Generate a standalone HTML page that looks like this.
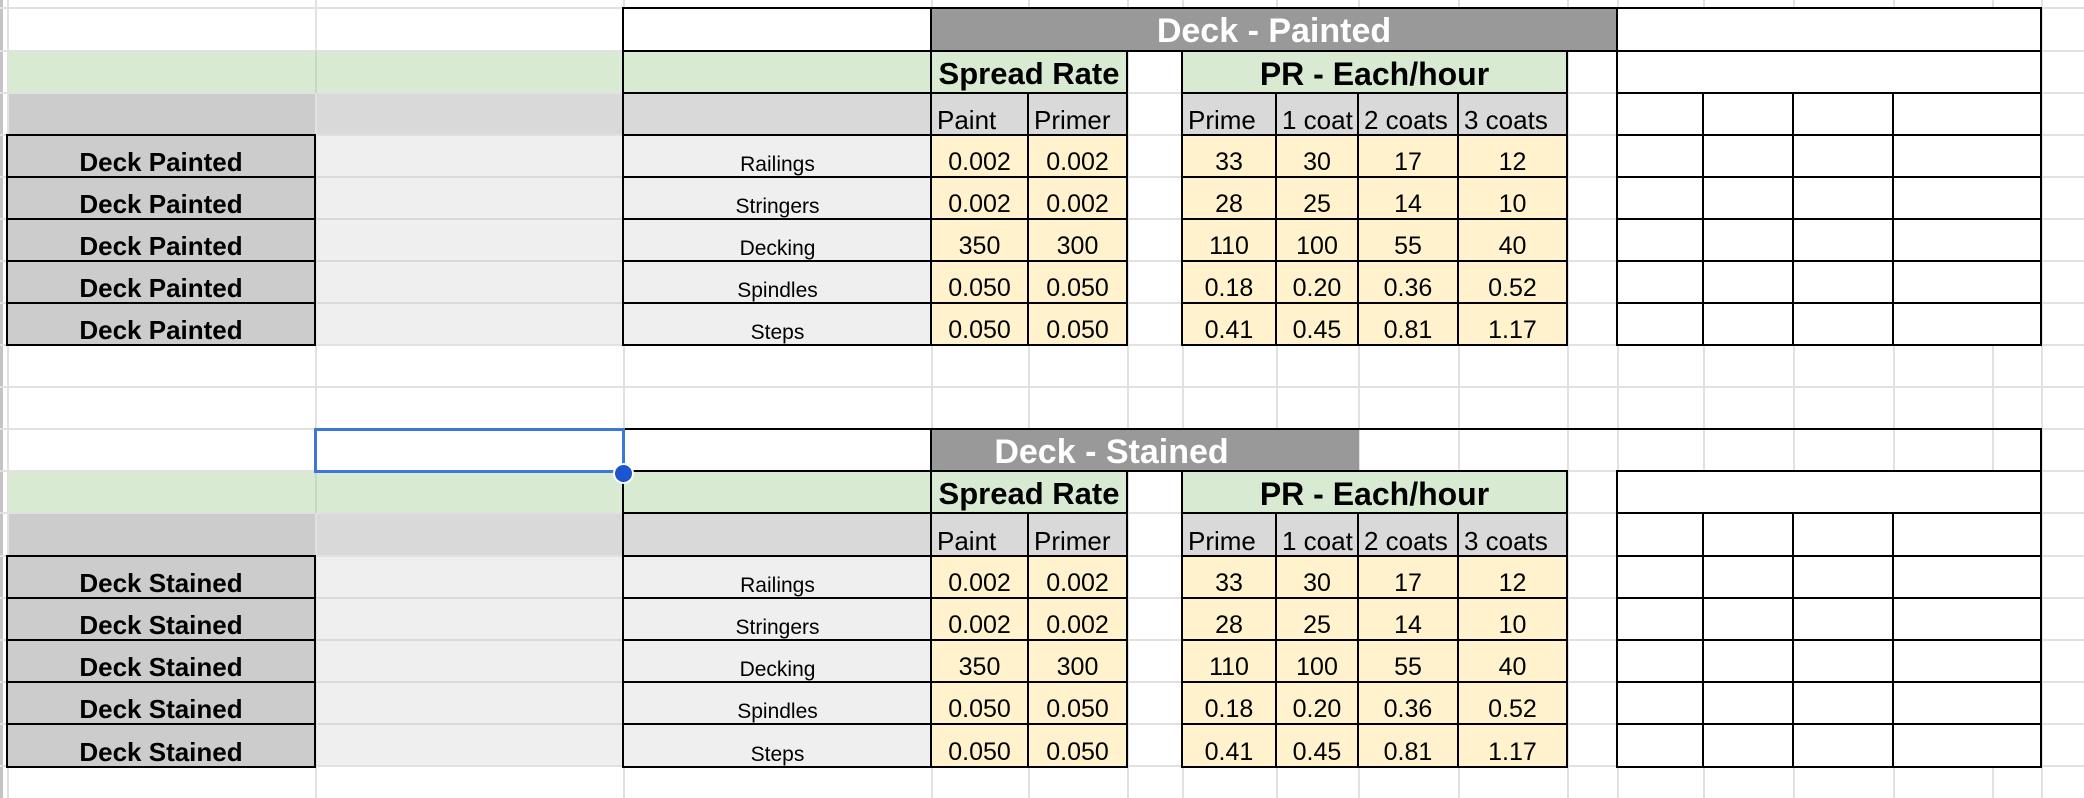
<!DOCTYPE html>
<html><head><meta charset="utf-8"><style>
body{margin:0;width:2084px;height:798px;background:#fff;position:relative;overflow:hidden;font-family:"Liberation Sans",Arial,sans-serif}
.g{position:absolute;background:#e1e1e1}
.f{position:absolute}
.c{position:absolute;box-sizing:border-box;border:2px solid #000;display:flex;align-items:flex-end;justify-content:center;color:#000;white-space:nowrap;line-height:1.0;padding-bottom:1px;font-size:25px;background:#fff}
.hc{align-items:center;padding-bottom:0;padding-top:3px;font-weight:bold}
.lb{justify-content:flex-start;padding-left:5px;font-size:26px}
.dA{font-weight:bold;font-size:26px;background:#ccc}
.dC{font-size:21px;background:#efefef}
.v{background:#fff2cc}
.gr{background:#d9d9d9}
.gn{background:#d9ead3}
.xA{left:6px;width:310px}.xC{left:622px;width:311px}.xP{left:930px;width:99px}.xQ{left:1027px;width:101px}
.xR1{left:1181px;width:96px}.xR2{left:1275px;width:84px}.xR3{left:1357px;width:102px}.xR4{left:1457px;width:111px}
.xS1{left:1616px;width:88px}.xS2{left:1702px;width:92px}.xS3{left:1792px;width:102px}.xS4{left:1892px;width:150px}
.xRt{left:1616px;width:426px}.xSp{left:930px;width:198px}.xPR{left:1181px;width:387px}
.r0{top:7px;height:45px}.r1{top:50px;height:44px}.r2{top:92px;height:44px}.r3{top:134px;height:44px}.r4{top:176px;height:44px}.r5{top:218px;height:44px}.r6{top:260px;height:44px}.r7{top:302px;height:44px}
.s0{top:428px;height:44px}.s1{top:470px;height:44px}.s2{top:512px;height:45px}.s3{top:555px;height:44px}.s4{top:597px;height:44px}.s5{top:639px;height:44px}.s6{top:681px;height:44px}.s7{top:723px;height:45px}
</style></head><body>
<!-- gridlines -->
<div class="g" style="left:0;top:0;width:3px;height:798px;background:#c4c4c4"></div>
<div class="g" style="left:7px;top:0;width:2px;height:798px"></div>
<div class="g" style="left:315px;top:0;width:2px;height:798px"></div>
<div class="g" style="left:623px;top:0;width:2px;height:798px"></div>
<div class="g" style="left:931px;top:0;width:2px;height:798px"></div>
<div class="g" style="left:1028px;top:0;width:2px;height:798px"></div>
<div class="g" style="left:1127px;top:0;width:2px;height:798px"></div>
<div class="g" style="left:1182px;top:0;width:2px;height:798px"></div>
<div class="g" style="left:1276px;top:0;width:2px;height:798px"></div>
<div class="g" style="left:1358px;top:0;width:2px;height:798px"></div>
<div class="g" style="left:1458px;top:0;width:2px;height:798px"></div>
<div class="g" style="left:1567px;top:0;width:2px;height:798px"></div>
<div class="g" style="left:1617px;top:0;width:2px;height:798px"></div>
<div class="g" style="left:1703px;top:0;width:2px;height:798px"></div>
<div class="g" style="left:1793px;top:0;width:2px;height:798px"></div>
<div class="g" style="left:1893px;top:0;width:2px;height:798px"></div>
<div class="g" style="left:1992px;top:0;width:2px;height:798px"></div>
<div class="g" style="left:2041px;top:0;width:2px;height:798px"></div>
<div class="g" style="left:0;top:7px;width:2084px;height:2px"></div>
<div class="g" style="left:0;top:50px;width:2084px;height:2px"></div>
<div class="g" style="left:0;top:92px;width:2084px;height:2px"></div>
<div class="g" style="left:0;top:134px;width:2084px;height:2px"></div>
<div class="g" style="left:0;top:176px;width:2084px;height:2px"></div>
<div class="g" style="left:0;top:218px;width:2084px;height:2px"></div>
<div class="g" style="left:0;top:260px;width:2084px;height:2px"></div>
<div class="g" style="left:0;top:302px;width:2084px;height:2px"></div>
<div class="g" style="left:0;top:344px;width:2084px;height:2px"></div>
<div class="g" style="left:0;top:386px;width:2084px;height:2px"></div>
<div class="g" style="left:0;top:428px;width:2084px;height:2px"></div>
<div class="g" style="left:0;top:470px;width:2084px;height:2px"></div>
<div class="g" style="left:0;top:512px;width:2084px;height:2px"></div>
<div class="g" style="left:0;top:555px;width:2084px;height:2px"></div>
<div class="g" style="left:0;top:597px;width:2084px;height:2px"></div>
<div class="g" style="left:0;top:639px;width:2084px;height:2px"></div>
<div class="g" style="left:0;top:681px;width:2084px;height:2px"></div>
<div class="g" style="left:0;top:723px;width:2084px;height:2px"></div>
<div class="g" style="left:0;top:765px;width:2084px;height:2px"></div>

<!-- ===== Section 1 fills ===== -->
<div class="f" style="left:9px;top:52px;width:614px;height:40px;background:#d9ead3"></div>
<div class="f" style="left:315px;top:51px;width:2px;height:42px;background:#c9d8c3"></div>
<div class="f" style="left:9px;top:94px;width:306px;height:40px;background:#ccc"></div>
<div class="f" style="left:317px;top:94px;width:306px;height:40px;background:#d9d9d9"></div>
<div class="f" style="left:317px;top:136px;width:306px;height:208px;background:#efefef"></div>
<div class="f" style="left:317px;top:176px;width:306px;height:2px;background:#dadada"></div>
<div class="f" style="left:317px;top:218px;width:306px;height:2px;background:#dadada"></div>
<div class="f" style="left:317px;top:260px;width:306px;height:2px;background:#dadada"></div>
<div class="f" style="left:317px;top:302px;width:306px;height:2px;background:#dadada"></div>

<div class="c xC r0"></div>
<div class="c hc" style="left:930px;top:7px;width:688px;height:45px;background:#999;color:#fff;font-size:34px">Deck - Painted</div>
<div class="c xRt r0"></div>

<div class="c xC r1 gn"></div>
<div class="c hc xSp r1 gn" style="font-size:31px">Spread Rate</div>
<div class="c hc xPR r1 gn" style="font-size:32px">PR - Each/hour</div>
<div class="c xRt r1"></div>

<div class="c xC r2 gr"></div>
<div class="c lb xP r2 gr">Paint</div><div class="c lb xQ r2 gr">Primer</div>
<div class="c lb xR1 r2 gr">Prime</div><div class="c lb xR2 r2 gr">1 coat</div><div class="c lb xR3 r2 gr">2 coats</div><div class="c lb xR4 r2 gr">3 coats</div>
<div class="c xS1 r2"></div><div class="c xS2 r2"></div><div class="c xS3 r2"></div><div class="c xS4 r2"></div>

<div class="c dA xA r3">Deck Painted</div><div class="c dC xC r3">Railings</div>
<div class="c v xP r3">0.002</div><div class="c v xQ r3">0.002</div>
<div class="c v xR1 r3">33</div><div class="c v xR2 r3">30</div><div class="c v xR3 r3">17</div><div class="c v xR4 r3">12</div>
<div class="c xS1 r3"></div><div class="c xS2 r3"></div><div class="c xS3 r3"></div><div class="c xS4 r3"></div>

<div class="c dA xA r4">Deck Painted</div><div class="c dC xC r4">Stringers</div>
<div class="c v xP r4">0.002</div><div class="c v xQ r4">0.002</div>
<div class="c v xR1 r4">28</div><div class="c v xR2 r4">25</div><div class="c v xR3 r4">14</div><div class="c v xR4 r4">10</div>
<div class="c xS1 r4"></div><div class="c xS2 r4"></div><div class="c xS3 r4"></div><div class="c xS4 r4"></div>

<div class="c dA xA r5">Deck Painted</div><div class="c dC xC r5">Decking</div>
<div class="c v xP r5">350</div><div class="c v xQ r5">300</div>
<div class="c v xR1 r5">110</div><div class="c v xR2 r5">100</div><div class="c v xR3 r5">55</div><div class="c v xR4 r5">40</div>
<div class="c xS1 r5"></div><div class="c xS2 r5"></div><div class="c xS3 r5"></div><div class="c xS4 r5"></div>

<div class="c dA xA r6">Deck Painted</div><div class="c dC xC r6">Spindles</div>
<div class="c v xP r6">0.050</div><div class="c v xQ r6">0.050</div>
<div class="c v xR1 r6">0.18</div><div class="c v xR2 r6">0.20</div><div class="c v xR3 r6">0.36</div><div class="c v xR4 r6">0.52</div>
<div class="c xS1 r6"></div><div class="c xS2 r6"></div><div class="c xS3 r6"></div><div class="c xS4 r6"></div>

<div class="c dA xA r7">Deck Painted</div><div class="c dC xC r7">Steps</div>
<div class="c v xP r7">0.050</div><div class="c v xQ r7">0.050</div>
<div class="c v xR1 r7">0.41</div><div class="c v xR2 r7">0.45</div><div class="c v xR3 r7">0.81</div><div class="c v xR4 r7">1.17</div>
<div class="c xS1 r7"></div><div class="c xS2 r7"></div><div class="c xS3 r7"></div><div class="c xS4 r7"></div>

<!-- ===== Section 2 fills ===== -->
<div class="f" style="left:9px;top:472px;width:614px;height:40px;background:#d9ead3"></div>
<div class="f" style="left:315px;top:471px;width:2px;height:42px;background:#c9d8c3"></div>
<div class="f" style="left:9px;top:514px;width:306px;height:41px;background:#ccc"></div>
<div class="f" style="left:317px;top:514px;width:306px;height:41px;background:#d9d9d9"></div>
<div class="f" style="left:317px;top:557px;width:306px;height:208px;background:#efefef"></div>
<div class="f" style="left:317px;top:597px;width:306px;height:2px;background:#dadada"></div>
<div class="f" style="left:317px;top:639px;width:306px;height:2px;background:#dadada"></div>
<div class="f" style="left:317px;top:681px;width:306px;height:2px;background:#dadada"></div>
<div class="f" style="left:317px;top:723px;width:306px;height:2px;background:#dadada"></div>

<div class="f" style="left:625px;top:430px;width:306px;height:40px;background:#fff"></div>
<div class="f" style="box-sizing:border-box;left:622px;top:428px;width:1420px;height:44px;border:2px solid #000;border-bottom:none"></div>
<div class="c hc" style="left:930px;top:428px;width:429px;height:44px;background:#999;color:#fff;font-size:34px;border-right:none"><span style="position:relative;left:-34px">Deck - Stained</span></div>
<div class="f" style="box-sizing:border-box;left:314px;top:428px;width:311px;height:45px;border:3px solid #3c78d8;background:#fff"></div>

<div class="c xC s1 gn"></div>
<div class="c hc xSp s1 gn" style="font-size:31px">Spread Rate</div>
<div class="c hc xPR s1 gn" style="font-size:32px">PR - Each/hour</div>
<div class="c xRt s1"></div>
<div class="f" style="box-sizing:border-box;left:613px;top:463px;width:21px;height:21px;border-radius:50%;background:#1b55cf;border:2px solid #fff"></div>

<div class="c xC s2 gr"></div>
<div class="c lb xP s2 gr">Paint</div><div class="c lb xQ s2 gr">Primer</div>
<div class="c lb xR1 s2 gr">Prime</div><div class="c lb xR2 s2 gr">1 coat</div><div class="c lb xR3 s2 gr">2 coats</div><div class="c lb xR4 s2 gr">3 coats</div>
<div class="c xS1 s2"></div><div class="c xS2 s2"></div><div class="c xS3 s2"></div><div class="c xS4 s2"></div>

<div class="c dA xA s3">Deck Stained</div><div class="c dC xC s3">Railings</div>
<div class="c v xP s3">0.002</div><div class="c v xQ s3">0.002</div>
<div class="c v xR1 s3">33</div><div class="c v xR2 s3">30</div><div class="c v xR3 s3">17</div><div class="c v xR4 s3">12</div>
<div class="c xS1 s3"></div><div class="c xS2 s3"></div><div class="c xS3 s3"></div><div class="c xS4 s3"></div>

<div class="c dA xA s4">Deck Stained</div><div class="c dC xC s4">Stringers</div>
<div class="c v xP s4">0.002</div><div class="c v xQ s4">0.002</div>
<div class="c v xR1 s4">28</div><div class="c v xR2 s4">25</div><div class="c v xR3 s4">14</div><div class="c v xR4 s4">10</div>
<div class="c xS1 s4"></div><div class="c xS2 s4"></div><div class="c xS3 s4"></div><div class="c xS4 s4"></div>

<div class="c dA xA s5">Deck Stained</div><div class="c dC xC s5">Decking</div>
<div class="c v xP s5">350</div><div class="c v xQ s5">300</div>
<div class="c v xR1 s5">110</div><div class="c v xR2 s5">100</div><div class="c v xR3 s5">55</div><div class="c v xR4 s5">40</div>
<div class="c xS1 s5"></div><div class="c xS2 s5"></div><div class="c xS3 s5"></div><div class="c xS4 s5"></div>

<div class="c dA xA s6">Deck Stained</div><div class="c dC xC s6">Spindles</div>
<div class="c v xP s6">0.050</div><div class="c v xQ s6">0.050</div>
<div class="c v xR1 s6">0.18</div><div class="c v xR2 s6">0.20</div><div class="c v xR3 s6">0.36</div><div class="c v xR4 s6">0.52</div>
<div class="c xS1 s6"></div><div class="c xS2 s6"></div><div class="c xS3 s6"></div><div class="c xS4 s6"></div>

<div class="c dA xA s7">Deck Stained</div><div class="c dC xC s7">Steps</div>
<div class="c v xP s7">0.050</div><div class="c v xQ s7">0.050</div>
<div class="c v xR1 s7">0.41</div><div class="c v xR2 s7">0.45</div><div class="c v xR3 s7">0.81</div><div class="c v xR4 s7">1.17</div>
<div class="c xS1 s7"></div><div class="c xS2 s7"></div><div class="c xS3 s7"></div><div class="c xS4 s7"></div>
</body></html>
